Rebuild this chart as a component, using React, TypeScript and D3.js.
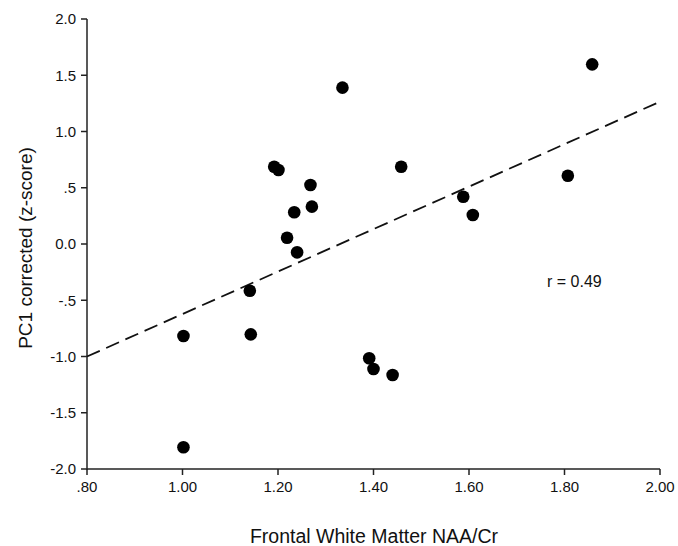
import React from "react";
import * as d3 from "d3";

const naaCr = [1.335, 1.192, 1.201, 1.268, 1.271, 1.234, 1.219, 1.24, 1.858, 1.458, 1.588, 1.608, 1.807, 1.141, 1.002, 1.143, 1.002, 1.391, 1.4, 1.44];
const pc1 = [1.39, 0.687, 0.658, 0.524, 0.332, 0.282, 0.056, -0.074, 1.597, 0.687, 0.42, 0.258, 0.607, -0.415, -0.818, -0.803, -1.807, -1.016, -1.111, -1.164];
const fitX = [0.8, 2.0];
const fitY = [-1.0, 1.265];
const xTicks = [0.8, 1.0, 1.2, 1.4, 1.6, 1.8, 2.0];
const xTickLabels = [".80", "1.00", "1.20", "1.40", "1.60", "1.80", "2.00"];
const yTicks = [2.0, 1.5, 1.0, 0.5, 0.0, -0.5, -1.0, -1.5, -2.0];
const yTickLabels = ["2.0", "1.5", "1.0", ".5", "0.0", "-.5", "-1.0", "-1.5", "-2.0"];
const xTitle = "Frontal White Matter NAA/Cr";
const yTitle = "PC1 corrected (z-score)";
const rLabel = "r = 0.49";

export default function App() {
  const W = 678, H = 546;
  const x = d3.scaleLinear().domain([0.8, 2.0]).range([87, 660]);
  const y = d3.scaleLinear().domain([-2, 2]).range([469, 19]);
  const font = "'Liberation Sans', Arial, Helvetica, sans-serif";
  const line = d3.line<number>().x((d, i) => x(fitX[i])).y((d, i) => y(fitY[i]));
  const pts = naaCr.map((v, i) => ({ x: v, y: pc1[i] }));
  return (
    <svg width={W} height={H} style={{ position: "absolute", left: 0, top: 0, background: "#fff" }} fontFamily={font}>
      <rect x={0} y={0} width={W} height={H} fill="#fff" />
      {/* axes */}
      <line x1={x(0.8)} x2={x(0.8)} y1={y(2)} y2={y(-2) + 1} stroke="#222" strokeWidth={1.5} />
      <line x1={x(0.8)} x2={x(2.0)} y1={y(-2)} y2={y(-2)} stroke="#222" strokeWidth={1.5} />
      {yTicks.map((t, i) => (
        <g key={"y" + i}>
          <line x1={x(0.8) - 6} x2={x(0.8)} y1={y(t)} y2={y(t)} stroke="#222" strokeWidth={1.5} />
          <text x={x(0.8) - 11} y={y(t)} dy="0.36em" textAnchor="end" fontSize={15} fill="#111">{yTickLabels[i]}</text>
        </g>
      ))}
      {xTicks.map((t, i) => (
        <g key={"x" + i}>
          <line x1={x(t)} x2={x(t)} y1={y(-2)} y2={y(-2) + 6} stroke="#222" strokeWidth={1.5} />
          <text x={x(t)} y={492} textAnchor="middle" fontSize={15} fill="#111">{xTickLabels[i]}</text>
        </g>
      ))}
      {/* fit line */}
      <path d={line(fitX) || ""} fill="none" stroke="#111" strokeWidth={1.8} strokeDasharray="14,7" />
      {/* points */}
      {pts.map((p, i) => (
        <circle key={"p" + i} cx={x(p.x)} cy={y(p.y)} r={6.3} fill="#000" />
      ))}
      <text x={547} y={287} fontSize={16} fill="#111">{rLabel}</text>
      <text x={374} y={543} textAnchor="middle" fontSize={19.5} fill="#111">{xTitle}</text>
      <text transform={`translate(32,248) rotate(-90)`} textAnchor="middle" fontSize={19} fill="#111">{yTitle}</text>
    </svg>
  );
}
